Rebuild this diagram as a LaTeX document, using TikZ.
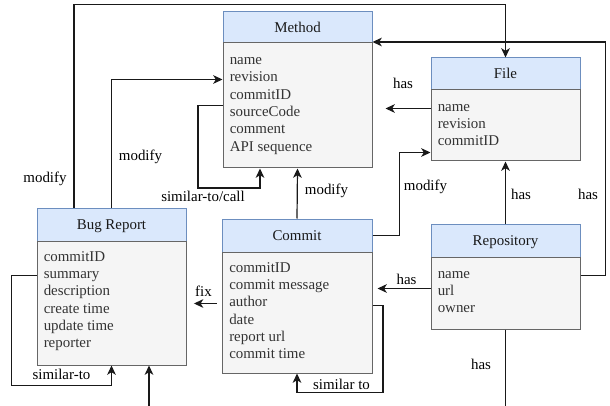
\documentclass[tikz,border=0pt]{standalone}
\usepackage{fontspec}
\setmainfont{Liberation Serif}
\usetikzlibrary{arrows.meta,calc,fit}
\definecolor{hdrfill}{HTML}{DAE8FC}
\definecolor{hdrline}{HTML}{6C8EBF}
\definecolor{bodyfill}{HTML}{F5F5F5}
\definecolor{bodyline}{HTML}{666666}
\definecolor{itemtext}{HTML}{333333}
\begin{document}
\begin{tikzpicture}[x=0.75pt,y=-0.75pt,
  every node/.style={font=\fontsize{11.2}{13}\selectfont},
  hdr/.style={draw=hdrline, fill=hdrfill, line width=0.75pt, inner sep=0pt},
  body/.style={draw=bodyline, fill=bodyfill, line width=0.75pt, inner sep=0pt},
  title/.style={inner sep=0pt, text=black!90, text height=0.9em, text depth=0.15em},
  item/.style={anchor=west, inner sep=0pt, text height=0.7em, text depth=0.25em, text=itemtext},
  lbl/.style={inner sep=0pt},
  link/.style={draw=black!90, line width=0.9pt},
  arr/.style={link, -{Stealth[length=7pt,width=6.5pt,inset=2pt]}}]
\useasboundingbox (0,0) rectangle (610,406);

% ---- entities ----
\node[hdr, fit={(223,12) (372,43)}] (methodh) {};
\node[title] (methodt) at (methodh.center) {Method};
\node[body, fit={(223,43) (372,168)}] (methodb) {};
\foreach \t [count=\i] in {name,revision,commitID,sourceCode,comment,API sequence}
  \node[item] (mi\i) at (229.5,{44.4+17.3*\i}) {\t};

\node[hdr, fit={(431,58) (580,90)}] (fileh) {};
\node[title] (filet) at (fileh.center) {File};
\node[body, fit={(431,90) (580,161)}] (fileb) {};
\foreach \t [count=\i] in {name,revision,commitID}
  \node[item] (fi\i) at (437.5,{91.1+17.2*\i}) {\t};

\node[hdr, fit={(431,224) (580,257)}] (repoh) {};
\node[title] (repot) at (repoh.center) {Repository};
\node[body, fit={(431,257) (580,329)}] (repob) {};
\foreach \t [count=\i] in {name,url,owner}
  \node[item] (ri\i) at (437.5,{257.8+17.2*\i}) {\t};

\node[hdr, fit={(37,208) (186,241)}] (bugh) {};
\node[title] (bugt) at (bugh.center) {Bug Report};
\node[body, fit={(37,241) (186,365)}] (bugb) {};
\foreach \t [count=\i] in {commitID,summary,description,create time,update time,reporter}
  \node[item] (bi\i) at (43.5,{241.0+17.3*\i}) {\t};

\node[hdr, fit={(222,219) (372,252)}] (commith) {};
\node[title] (committ) at (commith.center) {Commit};
\node[body, fit={(222,252) (372,373)}] (commitb) {};
\foreach \t [count=\i] in {commitID,commit message,author,date,report url,commit time}
  \node[item] (ci\i) at (229,{252.0+17.3*\i}) {\t};

% ---- helper points ----
\coordinate (bugq) at ($(bugh.north west)!.25!(bugh.north east)$);
\coordinate (bugfoot) at ($(bugb.south west)!.75!(bugb.south east)+(0,41)$);
\coordinate (repofoot) at ($(repob.south)+(0,77)$);
\coordinate (methodq) at ($(methodb.south west)!.25!(methodb.south east)$);
\coordinate (filehas) at ($(fileb.north west)+(0,19)$);
\coordinate (repohas) at ($(repob.north west)+(0,32)$);
\coordinate (fixpt) at ($(commitb.north west)+(0,52)$);

% ---- connectors ----
\draw[arr] (bugq) -- ++(0,-203) -| (fileh.north);
\draw[arr] (bugh.north) |- ($(methodb.north west)+(0,37)$);
\draw[arr] (methodb.west) -- ++(-24.5,0) -- ++(0,82.5) -| (methodq);
\draw[arr] (commith.north) -- (methodb.south);
\draw[arr] (commith.east) -- ++(27,0) |- ($(fileb.south west)+(0,-9)$);
\draw[arr, shorten >=9.75pt] (filehas) -- (filehas -| methodb.east);
\draw[arr] (repoh.north) -- (fileb.south);
\draw[arr] ($(repob.north east)+(0,19)$) -- ++(25,0) |- ($(methodh.south east)+(0,-1.5)$);
\draw[arr, shorten >=3.75pt] (repohas) -- (repohas -| commitb.east);
\draw[arr, shorten <=3.75pt, shorten >=5.6pt] (fixpt) -- (fixpt -| bugb.east);
\draw[arr] ($(commitb.north east)+(0,54)$) -- ++(10.5,0) -- ++(0,87) -| (commitb.south);
\draw[arr] ($(bugb.north west)+(0,35)$) -- ++(-25,0) -- ++(0,110) -| (bugb.south);
\draw[arr] (bugfoot) -- (bugfoot |- bugb.south);
\draw[link] (repob.south) -- (repofoot);

% ---- connector labels ----
\node[lbl] (l1) at (45,178.5) {modify};
\node[lbl] (l2) at (140.5,157) {modify};
\node[lbl] (l3) at (203,196.5) {similar-to/call};
\node[lbl] (l4) at (326.5,190.5) {modify};
\node[lbl] (l5) at (425.5,187) {modify};
\node[lbl] (l6) at (403,83) {has};
\node[lbl] (l7) at (521,194) {has};
\node[lbl] (l8) at (588,194) {has};
\node[lbl] (l9) at (406.5,279) {has};
\node[lbl] (l10) at (203.5,291) {fix};
\node[lbl] (l11) at (341.5,384) {similar to};
\node[lbl] (l12) at (61.5,374) {similar-to};
\node[lbl] (l13) at (481,364) {has};
\end{tikzpicture}
\end{document}
